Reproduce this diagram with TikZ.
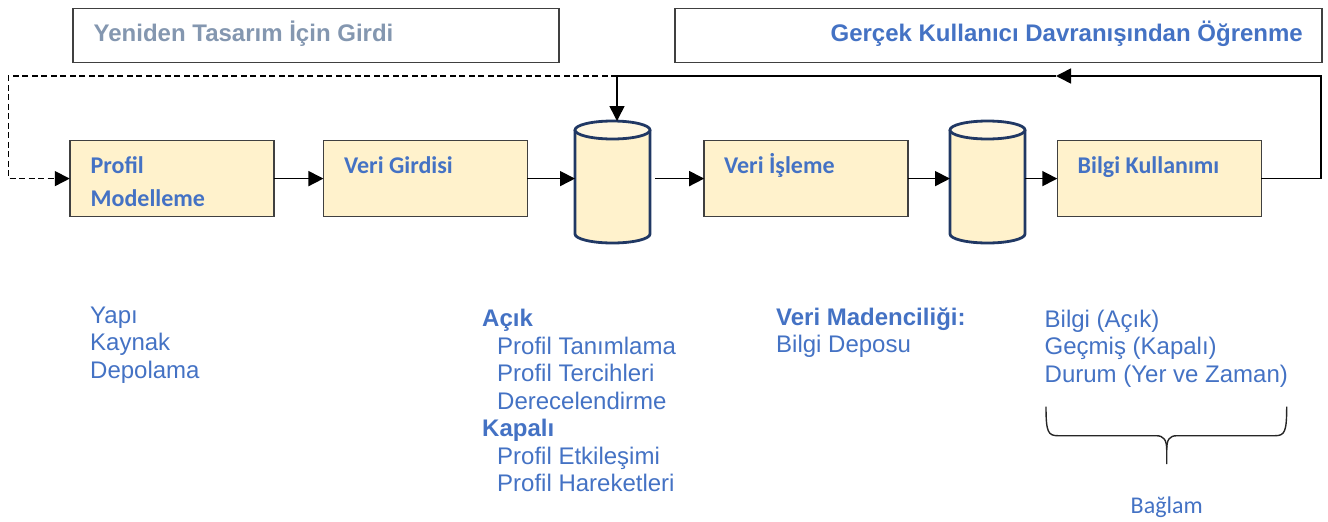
\documentclass[tikz,border=0pt]{standalone}
\usepackage{fontspec}
\setmainfont{Liberation Sans}
\newfontfamily\calibri{Carlito}
\usetikzlibrary{arrows.meta}
\definecolor{boxfill}{HTML}{FFF2CC}
\definecolor{cyltop}{HTML}{FFF7E1}
\definecolor{boxline}{HTML}{404040}
\definecolor{cylline}{HTML}{203864}
\definecolor{txtblue}{HTML}{4472C4}
\definecolor{txtgray}{HTML}{8497B0}
\tikzset{
  stepbox/.style={draw=boxline, line width=1.6pt, fill=boxfill, outer sep=0pt, inner sep=0pt, minimum width=204pt, minimum height=76pt},
  headbox/.style={draw=boxline, line width=1.5pt, fill=white, outer sep=0pt, inner sep=0pt, minimum height=54pt},
  cylbox/.style={draw=none, outer sep=0pt, inner sep=0pt, minimum width=75pt, minimum height=122pt},
  boxtext/.style={anchor=base west, inner sep=0pt, text=txtblue, font=\calibri\bfseries\fontsize{24}{28}\selectfont},
  bodytext/.style={anchor=base west, inner sep=0pt, text=txtblue, font=\fontsize{24}{28}\selectfont},
  bodybold/.style={bodytext, font=\bfseries\fontsize{24}{28}\selectfont},
  conn/.style={line width=1.6pt, black},
  arr/.style={conn, -{Triangle[length=15pt,width=15pt]}},
  cylfill/.style={fill=boxfill},
  cylstroke/.style={draw=cylline, line width=2.8pt},
}
\begin{document}
\begin{tikzpicture}[x=1pt,y=1pt]
\useasboundingbox (0,0) rectangle (1328,-522);

% header boxes
\node[headbox, minimum width=486pt] (inL) at (316,-35.5) {};
\node[headbox, minimum width=647pt] (inR) at (998.5,-35.5) {};
\node[anchor=base west, inner sep=0pt, text=txtgray, font=\bfseries\fontsize{24}{28}\selectfont] (inLT) at (93.5,-41.7) {Yeniden Tasarım İçin Girdi};
\node[anchor=base east, inner sep=0pt, text=txtblue, font=\bfseries\fontsize{24}{28}\selectfont] (inRT) at (1303,-41.7) {Gerçek Kullanıcı Davranışından Öğrenme};

% process boxes
\node[stepbox] (pm) at (171.75,-178.6) {};
\node[stepbox] (vg) at (425.45,-178.6) {};
\node[stepbox] (vi) at (806.2,-178.6) {};
\node[stepbox] (bk) at (1159.3,-178.6) {};
\node[boxtext] (pmT1) at (90.5,-173.3) {Profil};
\node[boxtext] (pmT2) at (90.5,-206) {Modelleme};
\node[boxtext] (vgT) at (344,-173.3) {Veri Girdisi};
\node[boxtext] (viT) at (724,-173.3) {Veri İşleme};
\node[boxtext] (bkT) at (1077.5,-173.3) {Bilgi Kullanımı};

% cylinders
\node[cylbox] (c1) at (612.5,-182) {};
\node[cylbox] (c2) at (987.5,-182) {};
\foreach \cx in {612.5,987.5}{
  \fill[cylfill] (\cx-37.5,-130) rectangle (\cx+37.5,-234);
  \fill[cylfill] (\cx,-234) ellipse[x radius=37.5, y radius=9];
  \draw[cylstroke] (\cx-37.5,-130) -- (\cx-37.5,-234) arc[start angle=180, end angle=360, x radius=37.5, y radius=9] -- (\cx+37.5,-130);
  \draw[cylstroke, fill=cyltop] (\cx,-130) ellipse[x radius=37.5, y radius=9];
}

% connectors
\draw[arr] (pm.east) -- (vg.west);
\draw[arr] (vg.east) -- (vg.east -| c1.west);
\draw[arr] ([xshift=5pt]c1.east |- vi.west) -- (vi.west);
\draw[arr] (vi.east) -- (vi.east -| c2.west);
\draw[arr] (c2.east |- bk.west) -- (bk.west);

% feedback loops
\coordinate (fbR) at (1321,-76);
\coordinate (fbM) at (1056,-76);
\coordinate (fbJ) at (617,-76);
\coordinate (fbL) at (8.3,-76);
\draw[arr] (bk.east) -| (fbR) -- (fbM);
\draw[conn] (fbM) -- (fbJ);
\draw[arr] (fbJ) -- (fbJ |- c1.north);
\draw[arr, dash pattern=on 6pt off 3.5pt] (fbJ) -- (fbL) |- (pm.west);

% lower texts
\node[bodytext] (t1) at (90,-323) {Yapı};
\node[bodytext] (t2) at (90,-350.5) {Kaynak};
\node[bodytext] (t3) at (90,-378) {Depolama};

\node[bodybold] (a0) at (482,-326.7) {Açık};
\node[bodytext] (a1) at (497,-354.2) {Profil Tanımlama};
\node[bodytext] (a2) at (497,-381.7) {Profil Tercihleri};
\node[bodytext] (a3) at (497,-409.2) {Derecelendirme};
\node[bodybold] (k0) at (482,-436.7) {Kapalı};
\node[bodytext] (k1) at (497,-464.2) {Profil Etkileşimi};
\node[bodytext] (k2) at (497,-491.7) {Profil Hareketleri};

\node[bodybold] (m0) at (776,-325) {Veri Madenciliği:};
\node[bodytext] (m1) at (776,-352.2) {Bilgi Deposu};

\node[bodytext] (b1) at (1044.5,-327) {Bilgi (Açık)};
\node[bodytext] (b2) at (1044.5,-354.5) {Geçmiş (Kapalı)};
\node[bodytext] (b3) at (1044.5,-382) {Durum (Yer ve Zaman)};

% brace
\draw[line width=1.4pt, black!85] (1046,-406.7) .. controls (1046,-432) and (1048,-435.7) .. (1058,-435.7) -- (1156,-435.7) .. controls (1164,-435.7) and (1166.7,-440) .. (1166.7,-450) -- (1166.7,-464);
\draw[line width=1.4pt, black!85] (1286.7,-406.7) .. controls (1286.7,-432) and (1284.7,-435.7) .. (1275,-435.7) -- (1177,-435.7) .. controls (1169,-435.7) and (1166.7,-440) .. (1166.7,-450);
\node[anchor=base, inner sep=0pt, text=txtblue, font=\calibri\fontsize{24}{28}\selectfont] (bag) at (1166.7,-513.3) {Bağlam};
\end{tikzpicture}
\end{document}
